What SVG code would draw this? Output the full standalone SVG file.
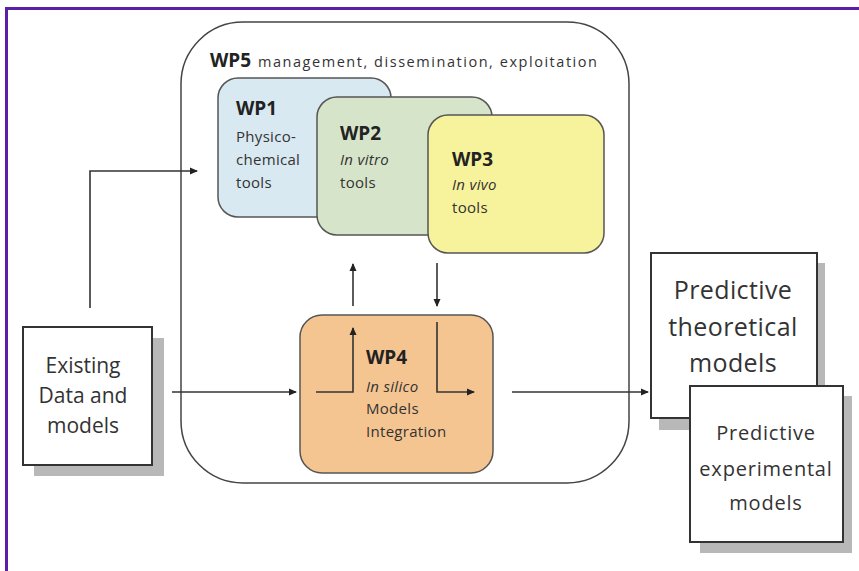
<svg xmlns="http://www.w3.org/2000/svg" width="859" height="571" viewBox="0 0 859 571">
<style>
text{font-family:"Open Sans",Lato,"Liberation Sans",sans-serif;fill:#333}
.wp{stroke:#555;stroke-width:1.5}
.b{font-weight:bold;font-size:19px;fill:#222}
.s{font-size:15px;letter-spacing:0.3px}
.i{font-style:italic}
.box{fill:#fff;stroke:#333;stroke-width:2}
.sh{fill:#b8b8b8}
.c{fill:none;stroke:#333;stroke-width:1.6}
</style>
<defs>
<marker id="ah" markerWidth="8" markerHeight="8" refX="7" refY="4" orient="auto" markerUnits="userSpaceOnUse">
<path d="M0,0.5 L8,4 L0,7.5 Z" fill="#222"/>
</marker>
</defs>
<rect width="859" height="571" fill="#fff"/>
<g id="frame">
<line x1="5" y1="8.5" x2="859" y2="8.5" stroke="#5b1fa6" stroke-width="3"/>
<line x1="6.5" y1="7" x2="6.5" y2="571" stroke="#5b1fa6" stroke-width="3"/>
</g>
<g id="wp5">
<rect x="181" y="22" width="448" height="461" rx="62" fill="#fff" stroke="#444" stroke-width="1.5"/>
<text x="210" y="67" class="b">WP5</text>
<text x="258" y="67" font-size="14.5" textLength="339" lengthAdjust="spacing">management, dissemination, exploitation</text>
</g>
<g id="wp1">
<rect class="wp" x="218" y="78" width="173" height="139" rx="20" fill="#d9e9f1"/>
<text x="236" y="115" class="b">WP1</text>
<text x="236" y="142" class="s">Physico-</text>
<text x="236" y="165" class="s">chemical</text>
<text x="236" y="188" class="s">tools</text>
</g>
<g id="wp2">
<rect class="wp" x="317" y="97" width="175" height="138" rx="20" fill="#d6e5c9"/>
<text x="340" y="140" class="b">WP2</text>
<text x="340" y="165" class="s i">In vitro</text>
<text x="340" y="188" class="s">tools</text>
</g>
<g id="wp3">
<rect class="wp" x="428" y="115" width="176" height="138" rx="20" fill="#f7f29c"/>
<text x="452" y="166" class="b">WP3</text>
<text x="452" y="190" class="s i">In vivo</text>
<text x="452" y="213" class="s">tools</text>
</g>
<g id="wp4">
<rect class="wp" x="300" y="315" width="193" height="158" rx="22" fill="#f5c591"/>
<text x="366" y="364" class="b">WP4</text>
<text x="366" y="392" class="s i">In silico</text>
<text x="366" y="414" class="s">Models</text>
<text x="366" y="437" class="s">Integration</text>
</g>
<g id="existing">
<rect class="sh" x="34" y="338" width="130" height="138"/>
<rect class="box" x="23" y="327" width="129" height="138"/>
<text text-anchor="middle" font-size="21" x="83" y="373">Existing</text>
<text text-anchor="middle" font-size="21" x="83" y="403">Data and</text>
<text text-anchor="middle" font-size="21" x="83" y="433">models</text>
</g>
<g id="theoretical">
<rect class="sh" x="659" y="263" width="166" height="167"/>
<rect class="box" x="651" y="253" width="166" height="165"/>
<text text-anchor="middle" font-size="25" x="733" y="299" letter-spacing="0.4">Predictive</text>
<text text-anchor="middle" font-size="25" x="733" y="336" letter-spacing="0.4">theoretical</text>
<text text-anchor="middle" font-size="25" x="733" y="372" letter-spacing="0.4">models</text>
</g>
<g id="experimental">
<rect class="sh" x="700" y="396" width="152" height="157"/>
<rect class="box" x="690" y="386" width="153" height="156"/>
<text text-anchor="middle" font-size="20" x="766" y="440" letter-spacing="0.8">Predictive</text>
<text text-anchor="middle" font-size="20" x="766" y="476" letter-spacing="0.8">experimental</text>
<text text-anchor="middle" font-size="20" x="766" y="510" letter-spacing="0.8">models</text>
</g>
<g id="connectors">
<path class="c" d="M90,308 V171 H197" marker-end="url(#ah)"/>
<path class="c" d="M172,392 H296" marker-end="url(#ah)"/>
<path class="c" d="M316,392 H353 V328" marker-end="url(#ah)"/>
<path class="c" d="M353,306 V264" marker-end="url(#ah)"/>
<path class="c" d="M437,263 V306" marker-end="url(#ah)"/>
<path class="c" d="M437,322 V392 H474" marker-end="url(#ah)"/>
<path class="c" d="M512,392 H648" marker-end="url(#ah)"/>
</g>
</svg>
